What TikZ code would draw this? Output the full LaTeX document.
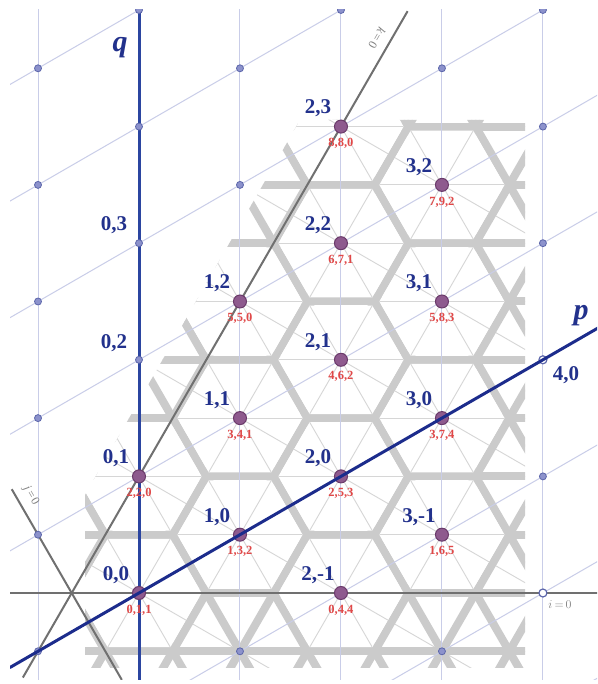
\documentclass[tikz,border=0pt]{standalone}
\usepackage{fontspec}
\setmainfont{Liberation Serif}
\definecolor{axblue}{HTML}{2B45A0}
\definecolor{pblue}{HTML}{1C2C8C}
\definecolor{gridblue}{HTML}{C9CDE8}
\definecolor{dotfill}{HTML}{8C92CC}
\definecolor{dotdraw}{HTML}{5C66AA}
\definecolor{ptfill}{HTML}{8E5A8E}
\definecolor{ptdraw}{HTML}{6A3A6A}
\definecolor{lblblue}{HTML}{22318C}
\definecolor{lblred}{HTML}{E04848}
\definecolor{darkline}{HTML}{707070}
\definecolor{thinl}{HTML}{D6D6D6}
\definecolor{thickl}{HTML}{CBCBCB}
\tikzset{
  globline/.style={gridblue, line width=1pt},
  regline/.style={thinl, line width=0.9pt},
  thickband/.style={thickl, line width=8pt},
  cellfill/.style={fill=white},
  zeroline/.style={darkline, line width=2pt},
  smalldot/.style={circle, fill=dotfill, draw=dotdraw, line width=0.8pt, inner sep=0pt, minimum size=7pt},
  hollowdot/.style={circle, fill=white, draw=dotdraw, line width=1.2pt, inner sep=0pt, minimum size=8pt},
  mainpt/.style={circle, fill=ptfill, draw=ptdraw, line width=1pt, inner sep=0pt, minimum size=13pt},
  bluelbl/.style={font=\fontsize{21}{21}\selectfont\bfseries, text=lblblue, inner sep=0pt},
  redlbl/.style={font=\fontsize{12.5}{12.5}\selectfont\bfseries, text=lblred, inner sep=0pt},
  graylbl/.style={font=\fontsize{12}{12}\selectfont, text=gray, inner sep=0pt},
  axlbl/.style={font=\fontsize{30}{30}\selectfont\itshape\bfseries, text=lblblue, inner sep=0pt},
  lattice/.style={shift={(139pt,91pt)}, x={(100.98pt,58.3pt)}, y={(0pt,116.6pt)}}
}
\newcommand{\thinset}{%
  \foreach \i in {-3,...,12} \draw[regline] (\i+10,-5) -- (\i-10,5);
  \foreach \j in {-2,...,12} \draw[regline] (-5,\j+9) -- (5,\j-11);
  \foreach \k in {-3,...,8} \draw[regline] (-5,-4-\k) -- (5,6-\k);
  \foreach \c in {-2,...,8} \draw[regline] (\c+5,-5) -- (\c-5,5);
}
\begin{document}
\begin{tikzpicture}[x=1pt,y=1pt]
\useasboundingbox (0,0) rectangle (597,684);
\fill[white] (0,0) rectangle (597,684);
% ---------- patterned region ----------
\begin{scope}
  \clip (85,16) -- (85,189) -- (300,564) -- (525,564) -- (525,16) -- cycle;
  \begin{scope}[lattice]
    \thinset
    \foreach \i in {-3,...,12} \draw[thickband] (\i+10,-5) -- (\i-10,5);
    \foreach \j in {-2,...,12} \draw[thickband] (-5,\j+9) -- (5,\j-11);
    \foreach \k in {-3,...,8} \draw[thickband] (-5,-4-\k) -- (5,6-\k);
    \foreach \a/\b in {0/0,0/1,1/0,1/1,1/2,2/-1,2/0,2/1,2/2,2/3,3/-1,3/0,3/1,3/2}
      \fill[cellfill] (\a+0.62,\b-0.31) -- (\a+0.31,\b+0.31) -- (\a-0.31,\b+0.62) -- (\a-0.62,\b+0.31) -- (\a-0.31,\b-0.31) -- (\a+0.31,\b-0.62) -- cycle;
    \begin{scope}
      \clip \foreach \a/\b in {0/0,0/1,1/0,1/1,1/2,2/-1,2/0,2/1,2/2,2/3,3/-1,3/0,3/1,3/2}
        { (\a+0.62,\b-0.31) -- (\a+0.31,\b+0.31) -- (\a-0.31,\b+0.62) -- (\a-0.62,\b+0.31) -- (\a-0.31,\b-0.31) -- (\a+0.31,\b-0.62) -- cycle };
      \thinset
    \end{scope}
  \end{scope}
\end{scope}
\begin{scope}
\clip (10,4) rectangle (597,674);
\begin{scope}[lattice]
  % global light lines
  \foreach \a in {-1,1,2,3,4} \draw[globline] (\a,-8) -- (\a,8);
  \foreach \b in {-3,-2,-1,1,2,3,4,5} \draw[globline] (-3,\b) -- (6,\b);
  % zero lines
  \coordinate (i0a) at (-4,2);
  \coordinate (i0b) at (6,-3);
  \draw[zeroline] (i0a) -- (i0b);
  \coordinate (k0a) at (-1.15,-0.15);
  \coordinate (k0b) at (2.66,3.66);
  \draw[zeroline] (k0a) -- (k0b);
  \coordinate (j0a) at (-1.26,1.52);
  \coordinate (j0b) at (-0.17,-0.66);
  \draw[zeroline] (j0a) -- (j0b);
  % q axis
  \coordinate (qtop) at (0,5);
  \coordinate (qbot) at (0,-1);
  \draw[axblue, line width=3pt] (qbot) -- (qtop);
  % small dots
  \foreach \a/\b in {-1/0,-1/1,-1/2,-1/3,-1/4,-1/5,0/2,0/3,0/4,0/5,1/-1,1/3,1/4,2/4,3/-2,3/3,4/-1,4/1,4/2,4/3}
    \node[smalldot] (d\a\b) at (\a,\b) {};
  \node[hollowdot] (h40) at (4,0) {};
  \node[hollowdot] (h4m2) at (4,-2) {};
  % main points
  \foreach \a/\b in {0/0,0/1,1/0,1/1,1/2,2/-1,2/0,2/1,2/2,2/3,3/-1,3/0,3/1,3/2} {
    \pgfmathtruncatemacro{\ii}{\a+2*\b}
    \pgfmathtruncatemacro{\jj}{2*\a+\b+1}
    \pgfmathtruncatemacro{\kk}{\a-\b+1}
    \node[mainpt] (m\a\b) at (\a,\b) {};
    \node[bluelbl] (bl\a\b) at ([xshift=-23pt,yshift=18pt]m\a\b.center) {\a,\b};
    \node[redlbl] (rl\a\b) at ([yshift=-17pt]m\a\b.center) {\ii,\jj,\kk};
  }
  % p axis
  \coordinate (pleft) at (-1.28,0);
  \coordinate (pright) at (4.55,0);
  \draw[pblue, line width=3pt] (pleft) -- (pright);
  % axis labels
  \node[bluelbl] (l02) at ([xshift=-25pt,yshift=17pt]d02.center) {0,2};
  \node[bluelbl] (l03) at ([xshift=-25pt,yshift=18pt]d03.center) {0,3};
  \node[bluelbl] (l40) at ([xshift=23pt,yshift=-15pt]h40.center) {4,0};
\end{scope}
\end{scope}
\node[axlbl] (qlbl) at (120,636) {q};
\node[axlbl] (plbl) at (581,368) {p};
\node[graylbl] (ilbl) at (560,79) {$i\,{=}\,0$};
\node[graylbl, rotate=-120] (klbl) at (377,646) {\textit{k}\kern2pt=\kern2pt0};
\node[graylbl, rotate=-60] (jlbl) at (31,188) {\textit{j}\kern2pt=\kern2pt0};
\end{tikzpicture}
\end{document}
